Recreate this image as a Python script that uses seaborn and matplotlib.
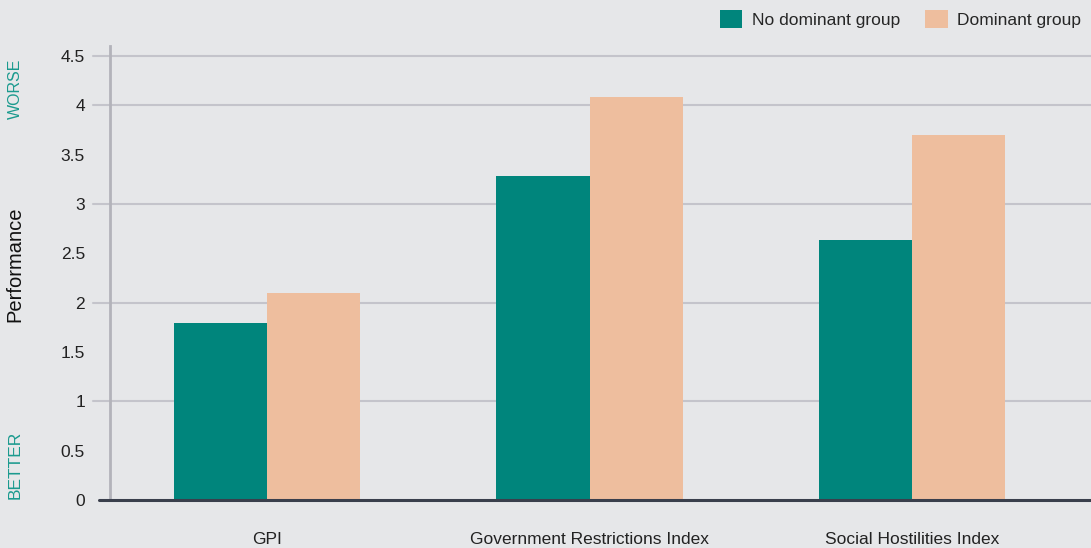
import numpy as np
import pandas as pd
import seaborn as sns
import matplotlib.pyplot as plt
from matplotlib.patches import Patch

categories = ["GPI", "Government Restrictions Index", "Social Hostilities Index"]
groups = ["No dominant group", "Dominant group"]
no_dominant = [1.79, 3.28, 2.63]
dominant = [2.10, 4.08, 3.70]
y_ticks = [0, 0.5, 1, 1.5, 2, 2.5, 3, 3.5, 4, 4.5]
y_tick_labels = ["0", "0.5", "1", "1.5", "2", "2.5", "3", "3.5", "4", "4.5"]
grid_at = [1, 2, 3, 4, 4.5]

df = pd.DataFrame({
    "category": categories * 2,
    "group": [groups[0]] * 3 + [groups[1]] * 3,
    "value": no_dominant + dominant,
})

bg = "#e6e7e9"
teal = "#00857c"
peach = "#eebe9e"
gridc = "#c4c4cb"

sns.set_style("white")
plt.rcParams['font.family'] = ['Liberation Sans', 'DejaVu Sans']

fig = plt.figure(figsize=(10.91, 5.48), dpi=100, facecolor=bg)
ax = fig.add_axes([110 / 1091, 48 / 548, 981 / 1091, 454 / 548])
ax.set_facecolor(bg)

sns.barplot(data=df, x="category", y="value", hue="group", palette=[teal, peach],
            width=0.577, saturation=1, ax=ax, legend=False, zorder=3,
            edgecolor="none", linewidth=0)

ax.set_xlim(-0.487, 2.555)
ax.set_ylim(0, 4.6)

for g in grid_at:
    ax.axhline(g, xmin=-17 / 981, xmax=1, color=gridc, lw=1.5, clip_on=False, zorder=1)
ax.axhline(0, xmin=-11 / 981, xmax=1, color="#3a3f4c", lw=2.2, clip_on=False, zorder=4)

for s in ["top", "right", "bottom"]:
    ax.spines[s].set_visible(False)
ax.spines["left"].set_color("#b3b3ba")
ax.spines["left"].set_linewidth(2)

ax.set_yticks(y_ticks)
ax.set_yticklabels(y_tick_labels)
ax.tick_params(axis="y", length=0, pad=18, labelsize=12.5, labelcolor="#222222")
ax.tick_params(axis="x", length=0, pad=23, labelsize=12.5, labelcolor="#222222")
ax.set_xlabel("")
ax.set_ylabel("")

fig.text(15 / 1091, 1 - 264 / 548, "Performance", rotation=90, ha="center", va="center",
         fontsize=14.5, color="#111111")
fig.text(15 / 1091, 1 - 89 / 548, "WORSE", rotation=90, ha="center", va="center",
         fontsize=11.5, color="#1a9a8e")
fig.text(15 / 1091, 1 - 465 / 548, "BETTER", rotation=90, ha="center", va="center",
         fontsize=12.5, color="#1a9a8e")

handles = [Patch(facecolor=teal, edgecolor="none"), Patch(facecolor=peach, edgecolor="none")]
fig.legend(handles, groups, loc="upper right", bbox_to_anchor=(1.0, 1.0), ncol=2,
           frameon=False, fontsize=12.5, handlelength=1.3, handleheight=1.3,
           handletextpad=0.55, columnspacing=1.45, borderaxespad=0.15)

fig.savefig("out.png", dpi=100, facecolor=bg)
